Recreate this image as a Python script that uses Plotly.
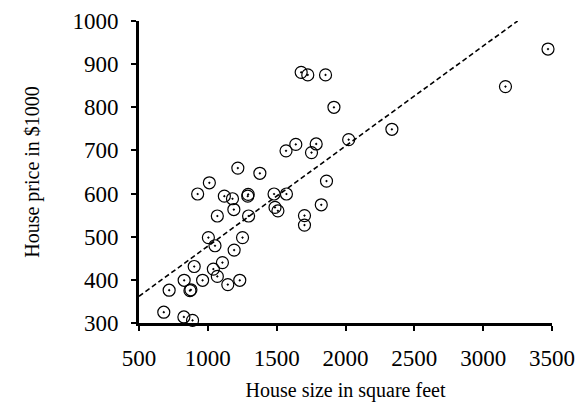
import plotly.graph_objects as go

house_size = [680, 826, 889, 719, 828, 870, 877, 901, 962, 926, 1011, 1004, 1052, 1040,
              1069, 1106, 1069, 1120, 1179, 1189, 1145, 1191, 1232, 1252, 1218, 1293, 1290,
              1296, 1378, 1481, 1488, 1509, 1571, 1568, 1639, 1678, 1726, 1855, 1753, 1787,
              1702, 1702, 1824, 1862, 1916, 2023, 2337, 3162, 3471]
house_price = [325, 314, 306, 376, 399, 375, 377, 431, 399, 599, 625, 498, 479, 425,
               408, 440, 548, 594, 588, 563, 389, 469, 399, 498, 659, 598, 594,
               548, 647, 599, 568, 560, 599, 699, 714, 881, 875, 875, 695, 715,
               549, 527, 574, 629, 800, 725, 749, 848, 935]

trend_x = [500, 3250]
trend_y = [362, 1000]

x_ticks = [500, 1000, 1500, 2000, 2500, 3000, 3500]
y_ticks = [300, 400, 500, 600, 700, 800, 900, 1000]

font = "Times New Roman, Liberation Serif, serif"
tick_font = dict(family=font, size=23, color="black")
title_font = dict(family=font, size=20, color="black")

fig = go.Figure()
fig.add_trace(go.Scatter(
    x=trend_x, y=trend_y, mode="lines",
    line=dict(color="black", width=1.6, dash="5px,3px"),
    showlegend=False, hoverinfo="skip"))
fig.add_trace(go.Scatter(
    x=house_size, y=house_price, mode="markers",
    marker=dict(symbol="circle-open-dot", size=12, color="black",
                line=dict(color="black", width=1.2)),
    cliponaxis=False, showlegend=False))

fig.update_layout(
    width=583, height=402,
    margin=dict(l=139, r=31, t=21, b=79),
    paper_bgcolor="white", plot_bgcolor="white",
    font=dict(family=font, size=20, color="black"),
    xaxis=dict(range=[500, 3500], tickvals=x_ticks, showgrid=False, zeroline=False,
               showline=True, linecolor="black", linewidth=3, automargin=False,
               ticks="outside", ticklen=5, tickwidth=2, tickcolor="black",
               tickfont=tick_font, ticklabelstandoff=7,
               title=dict(text="House size in square feet", font=title_font, standoff=14)),
    yaxis=dict(range=[300, 1000], tickvals=y_ticks, showgrid=False, zeroline=False,
               showline=True, linecolor="black", linewidth=3, automargin=False,
               ticks="outside", ticklen=5, tickwidth=2, tickcolor="black",
               tickfont=tick_font, ticklabelstandoff=8,
               title=dict(text="House price in $1000", font=title_font, standoff=28)),
)

fig.write_html("out.html")
